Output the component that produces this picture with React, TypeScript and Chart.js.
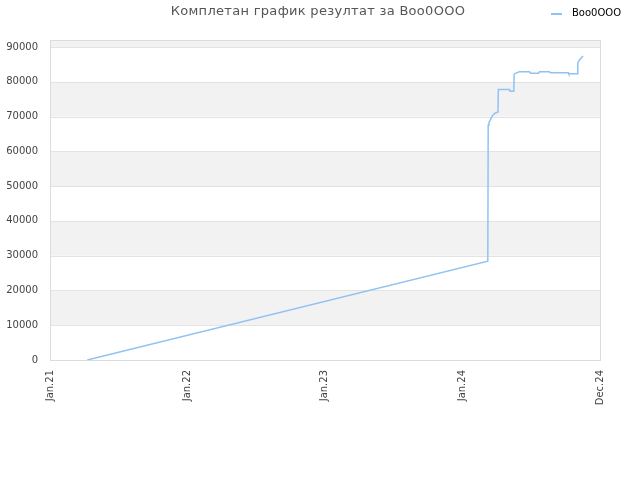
import React, { useEffect, useRef } from 'react';
import { Chart, registerables } from 'chart.js';

Chart.register(...registerables);

const titleText = 'Комплетан график резултат за Boo0OOO';
const seriesName = 'Boo0OOO';

// x = days since 1 Jan 2021
const dayOffsets = [
  99, 1163, 1164, 1166, 1169, 1172, 1176, 1181, 1190, 1191, 1221, 1222, 1232, 1233,
  1239, 1247, 1274, 1276, 1298, 1300, 1327, 1329, 1377, 1378, 1401, 1402, 1407, 1416,
];
const scores = [
  0, 28400, 67500, 68300, 68900, 69600, 70300, 70900, 71300, 77800, 77800, 77300, 77300, 82200,
  82560, 82850, 82850, 82470, 82470, 82850, 82850, 82560, 82560, 82270, 82270, 85500, 86300, 87400,
];

const xTickDays = [0, 365, 730, 1095, 1461];
const xTickLabels = ['Jan.21', 'Jan.22', 'Jan.23', 'Jan.24', 'Dec.24'];
const yTickValues = [0, 10000, 20000, 30000, 40000, 50000, 60000, 70000, 80000, 90000];
const shadedBands = [
  [10000, 20000],
  [30000, 40000],
  [50000, 60000],
  [70000, 80000],
  [90000, 92000],
];

const lineColor = '#90c2f2';
const fontFamily = '"DejaVu Sans", sans-serif';

const bandsAndLegend = {
  id: 'bandsAndLegend',
  beforeDatasetsDraw(chart: any) {
    const { ctx, chartArea, scales } = chart;
    const y = scales.y;
    ctx.save();
    ctx.fillStyle = '#f2f2f2';
    shadedBands.forEach(([lo, hi]) => {
      const top = y.getPixelForValue(hi);
      const bottom = y.getPixelForValue(lo);
      ctx.fillRect(chartArea.left, top, chartArea.right - chartArea.left, bottom - top);
    });
    // horizontal grid lines
    ctx.strokeStyle = '#e3e3e3';
    ctx.lineWidth = 1;
    yTickValues.forEach((v) => {
      if (v === 0) return;
      const py = Math.round(y.getPixelForValue(v)) + 0.5;
      ctx.beginPath();
      ctx.moveTo(chartArea.left, py);
      ctx.lineTo(chartArea.right, py);
      ctx.stroke();
    });
    // frame
    ctx.strokeStyle = '#dcdcdc';
    ctx.strokeRect(
      Math.round(chartArea.left) + 0.5,
      Math.round(chartArea.top) + 0.5,
      Math.round(chartArea.right - chartArea.left),
      Math.round(chartArea.bottom - chartArea.top)
    );
    ctx.restore();
  },
  afterDraw(chart: any) {
    const { ctx } = chart;
    ctx.save();
    // title
    ctx.fillStyle = '#555';
    ctx.font = `13px ${fontFamily}`;
    ctx.textAlign = 'center';
    ctx.textBaseline = 'middle';
    ctx.letterSpacing = '0.3px';
    ctx.fillText(titleText, 318, 12);
    ctx.letterSpacing = '0px';
    // legend
    ctx.strokeStyle = lineColor;
    ctx.lineWidth = 2;
    ctx.beginPath();
    ctx.moveTo(551, 14);
    ctx.lineTo(562, 14);
    ctx.stroke();
    ctx.fillStyle = '#000';
    ctx.font = `10px ${fontFamily}`;
    ctx.textAlign = 'left';
    ctx.fillText(seriesName, 572, 13.5);
    ctx.restore();
  },
};

const ScoreHistoryChart: React.FC = () => {
  const canvasRef = useRef<HTMLCanvasElement>(null);
  const chartInstanceRef = useRef<Chart | null>(null);

  useEffect(() => {
    if (!canvasRef.current) return;
    const ctx = canvasRef.current.getContext('2d');
    if (!ctx) return;

    chartInstanceRef.current = new Chart(ctx, {
      type: 'line',
      data: {
        datasets: [
          {
            label: seriesName,
            data: dayOffsets.map((d, i) => ({ x: d, y: scores[i] })),
            borderColor: lineColor,
            backgroundColor: lineColor,
            borderWidth: 1.5,
            pointRadius: 0,
            tension: 0,
            fill: false,
          },
        ],
      },
      options: {
        animation: false,
        responsive: false,
        devicePixelRatio: 1,
        layout: { padding: { left: 0, right: 40, top: 40, bottom: 0 } },
        plugins: {
          legend: { display: false },
          tooltip: { enabled: false },
          title: { display: false },
        },
        scales: {
          x: {
            type: 'linear',
            min: 0,
            max: 1461,
            grid: { display: false, drawTicks: false },
            border: { display: false },
            afterBuildTicks: (axis: any) => {
              axis.ticks = xTickDays.map((v) => ({ value: v }));
            },
            afterFit: (axis: any) => {
              axis.height = 120;
            },
            ticks: {
              autoSkip: false,
              minRotation: 90,
              maxRotation: 90,
              padding: 10,
              color: '#444',
              font: { family: fontFamily, size: 10 },
              callback: (value: any) => {
                const idx = xTickDays.indexOf(Number(value));
                return idx >= 0 ? xTickLabels[idx] : '';
              },
            },
          },
          y: {
            type: 'linear',
            min: 0,
            max: 92000,
            grid: { display: false, drawTicks: false },
            border: { display: false },
            afterBuildTicks: (axis: any) => {
              axis.ticks = yTickValues.map((v) => ({ value: v }));
            },
            afterFit: (axis: any) => {
              axis.width = 50;
            },
            ticks: {
              padding: 12,
              color: '#444',
              font: { family: fontFamily, size: 10 },
              callback: (value: any) => String(value),
            },
          },
        },
      },
      plugins: [bandsAndLegend],
    });

    return () => {
      if (chartInstanceRef.current) {
        chartInstanceRef.current.destroy();
        chartInstanceRef.current = null;
      }
    };
  }, []);

  return <canvas ref={canvasRef} width={640} height={480} aria-label="Score history chart"></canvas>;
};

export default function App() {
  return (
    <div style={{ position: 'absolute', left: 0, top: 0, width: 640, height: 480, background: '#fff' }}>
      <ScoreHistoryChart />
    </div>
  );
}
